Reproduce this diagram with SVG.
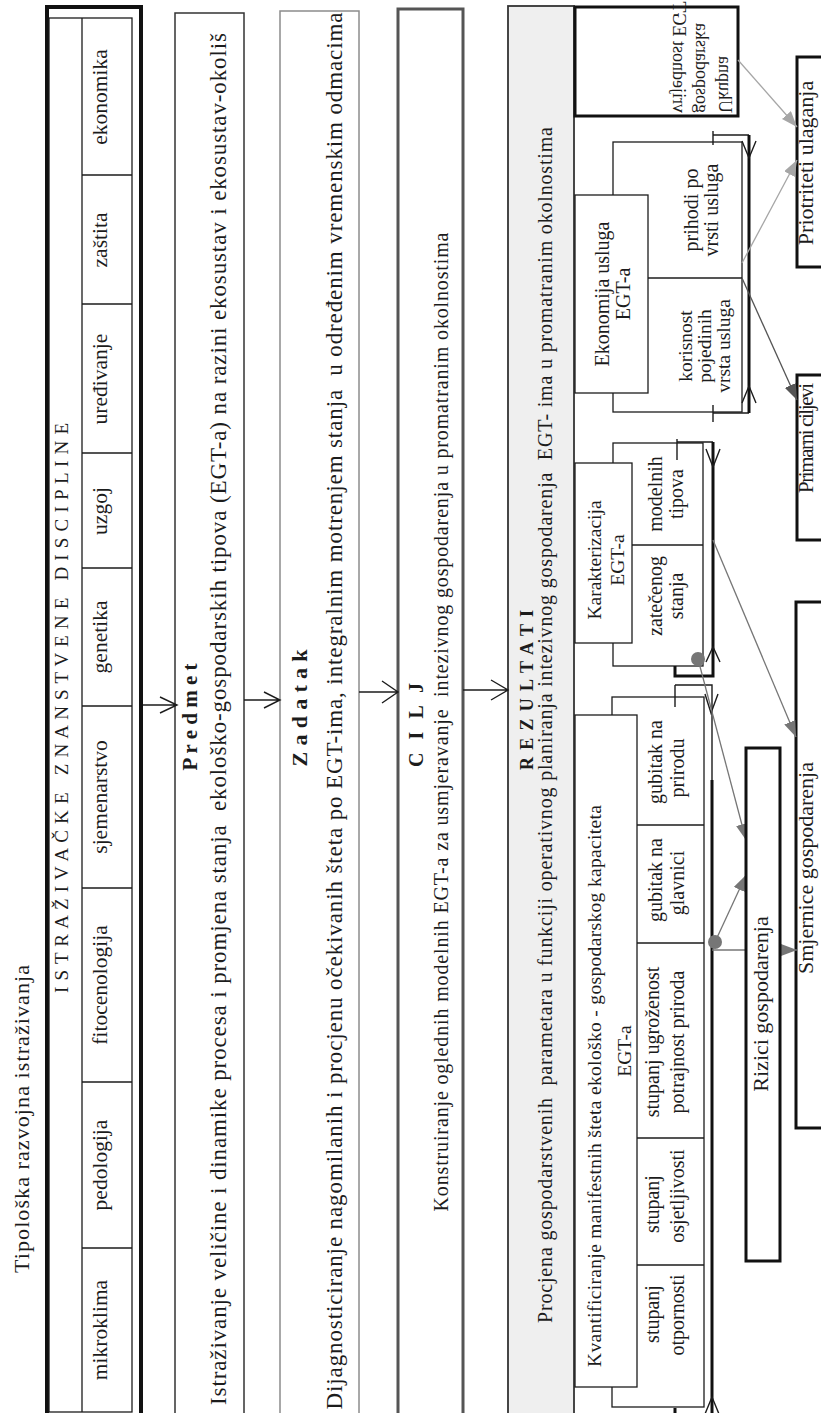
<svg xmlns="http://www.w3.org/2000/svg" width="821" height="1413" viewBox="0 0 821 1413">
  <style>
    .t { font-family: "Liberation Serif", "Times New Roman", serif; fill: #1c1c1c; }
    .b { font-weight: bold; }
    .thin { fill: none; stroke: #1c1c1c; stroke-width: 1.3; }
    .box { fill: #fff; stroke: #1c1c1c; stroke-width: 1.3; }
    .heavy { fill: #fff; stroke: #111; stroke-width: 3; }
    .arr { fill: none; stroke: #1c1c1c; stroke-width: 1.4; }
    .bold { fill: none; stroke: #111; stroke-width: 3; }
  </style>
  <defs>
    <marker id="tipLight" markerUnits="userSpaceOnUse" markerWidth="16" markerHeight="12" refX="16" refY="6" orient="auto">
      <path d="M0,0 L16,6 L0,12 z" fill="#a6a6a6"/>
    </marker>
    <marker id="tipMid" markerUnits="userSpaceOnUse" markerWidth="16" markerHeight="12" refX="16" refY="6" orient="auto">
      <path d="M0,0 L16,6 L0,12 z" fill="#767676"/>
    </marker>
    <marker id="tipDark" markerUnits="userSpaceOnUse" markerWidth="16" markerHeight="12" refX="16" refY="6" orient="auto">
      <path d="M0,0 L16,6 L0,12 z" fill="#555"/>
    </marker>
  </defs>
  <rect width="821" height="1413" fill="#fff"/>

  <!-- title -->
  <text id="title" class="t" font-size="22" text-anchor="middle" textLength="308" transform="translate(29 1119) rotate(-90)">Tipološka razvojna istraživanja</text>

  <!-- research disciplines -->
  <g id="discipline">
    <rect x="47" y="7" width="94" height="1420" fill="none" stroke="#111" stroke-width="4"/>
    <rect x="49" y="18" width="83" height="1394" class="thin"/>
    <path class="thin" d="M82,18 V1412 M82,175 H132 M82,304 H132 M82,453 H132 M82,568 H132 M82,706 H132 M82,888 H132 M82,1082 H132 M82,1248 H132"/>
    <text class="t" font-size="19" text-anchor="middle" xml:space="preserve" textLength="570" transform="translate(68 708) rotate(-90)">I S T R A Ž I V A Č K E   Z N A N S T V E N E   D I S C I P L I N E</text>
    <g class="t" font-size="21.5" text-anchor="middle">
      <text transform="translate(107 97) rotate(-90)">ekonomika</text>
      <text transform="translate(107 240) rotate(-90)">zaštita</text>
      <text transform="translate(107 379) rotate(-90)">uređivanje</text>
      <text transform="translate(107 511) rotate(-90)">uzgoj</text>
      <text transform="translate(107 637) rotate(-90)">genetika</text>
      <text transform="translate(107 797) rotate(-90)">sjemenarstvo</text>
      <text transform="translate(107 985) rotate(-90)">fitocenologija</text>
      <text transform="translate(107 1165) rotate(-90)">pedologija</text>
      <text transform="translate(107 1330) rotate(-90)">mikroklima</text>
    </g>
  </g>

  <!-- subject -->
  <g id="predmet">
    <rect x="175" y="13" width="69" height="1410" fill="none" stroke="#333" stroke-width="1.5"/>
    <text class="t b" font-size="21" text-anchor="middle" textLength="107" transform="translate(197 717) rotate(-90)">P r e d m e t</text>
    <text class="t" font-size="23" text-anchor="middle" xml:space="preserve" textLength="1372" transform="translate(226 719) rotate(-90)">Istraživanje veličine i dinamike procesa i promjena stanja  ekološko-gospodarskih tipova (EGT-a) na razini ekosustav i ekosustav-okoliš</text>
  </g>

  <!-- task -->
  <g id="zadatak">
    <rect x="280" y="11" width="79" height="1410" fill="none" stroke="#8c8c8c" stroke-width="1.5"/>
    <text class="t b" font-size="22" text-anchor="middle" textLength="117" transform="translate(307 708) rotate(-90)">Z a d a t a k</text>
    <text class="t" font-size="23" text-anchor="middle" xml:space="preserve" textLength="1397" transform="translate(342 711) rotate(-90)">Dijagnosticiranje nagomilanih i procjenu očekivanih šteta po EGT-ima, integralnim motrenjem stanja  u određenim vremenskim odmacima</text>
  </g>

  <!-- goal -->
  <g id="cilj">
    <rect x="398" y="9" width="65" height="1420" fill="none" stroke="#555" stroke-width="3"/>
    <text class="t b" font-size="20" text-anchor="middle" textLength="84" transform="translate(423 725) rotate(-90)">C I L J</text>
    <text class="t" font-size="20" text-anchor="middle" xml:space="preserve" textLength="979" transform="translate(448 722) rotate(-90)">Konstruiranje oglednih modelnih EGT-a za usmjeravanje  intezivnog gospodarenja u promatranim okolnostima</text>
  </g>

  <!-- results -->
  <g id="rezultati">
    <rect x="508" y="6" width="66" height="1420" fill="#efefef" stroke="#333" stroke-width="1.8"/>
    <text class="t b" font-size="18" text-anchor="middle" textLength="160" transform="translate(533 690) rotate(-90)">R E Z U L T A T I</text>
    <text class="t" font-size="20" text-anchor="middle" xml:space="preserve" textLength="1196" transform="translate(552 725) rotate(-90)">Procjena gospodarstvenih  parametara u funkciji operativnog planiranja intezivnog gospodarenja  EGT- ima u promatranim okolnostima</text>
  </g>

  <!-- total value -->
  <g id="ukupna">
    <rect x="575" y="7" width="163" height="109" class="heavy"/>
    <g class="t" font-size="18" xml:space="preserve">
      <text transform="matrix(0 -1 -1 0 719 113)">Ukupna</text>
      <text transform="matrix(0 -1 -1 0 696 113)">gospodarska</text>
      <text transform="matrix(0 -1 -1 0 673 113)">vrijednost  EGT</text>
    </g>
  </g>

  <!-- economy of services -->
  <g id="ekonomija">
    <rect x="613" y="142" width="129" height="270" class="box"/>
    <path class="thin" d="M648,278 H742"/>
    <rect x="575" y="195" width="73" height="198" class="box"/>
    <g class="t" font-size="20" text-anchor="middle">
      <text transform="translate(609 294) rotate(-90)">Ekonomija usluga</text>
      <text transform="translate(630 294) rotate(-90)">EGT-a</text>
    </g>
    <g class="t" font-size="20" text-anchor="middle">
      <text transform="translate(698 210) rotate(-90)">prihodi po</text>
      <text transform="translate(718 210) rotate(-90)">vrsti usluga</text>
    </g>
    <g class="t" font-size="19.5" text-anchor="middle">
      <text transform="translate(692 346) rotate(-90)">korisnost</text>
      <text transform="translate(711 346) rotate(-90)">pojedinih</text>
      <text transform="translate(730 346) rotate(-90)">vrsta usluga</text>
    </g>
  </g>

  <!-- characterisation -->
  <g id="karakterizacija">
    <rect x="613" y="443" width="90" height="223" class="box"/>
    <path class="thin" d="M632,545 H703"/>
    <rect x="575" y="463" width="57" height="180" class="box"/>
    <g class="t" font-size="19.5" text-anchor="middle">
      <text transform="translate(601 560) rotate(-90)">Karakterizacija</text>
      <text transform="translate(624 560) rotate(-90)">EGT-a</text>
    </g>
    <g class="t" font-size="20" text-anchor="middle">
      <text transform="translate(662 494) rotate(-90)">modelnih</text>
      <text transform="translate(683 494) rotate(-90)">tipova</text>
      <text transform="translate(662 596) rotate(-90)">zatečenog</text>
      <text transform="translate(683 596) rotate(-90)">stanja</text>
    </g>
  </g>

  <!-- quantification -->
  <g id="kvantificiranje">
    <rect x="612" y="697" width="92" height="710" class="box"/>
    <path class="thin" d="M637,825 H704 M637,943 H704 M637,1138 H704 M637,1265 H704"/>
    <rect x="575" y="715" width="62" height="672" class="box"/>
    <g class="t" font-size="19.5" text-anchor="middle" xml:space="preserve">
      <text textLength="562" transform="translate(601 1086) rotate(-90)">Kvantificiranje  manifestnih  šteta ekološko - gospodarskog  kapaciteta</text>
      <text transform="translate(631 1051) rotate(-90)">EGT-a</text>
    </g>
    <g class="t" font-size="20" text-anchor="middle">
      <text transform="translate(662 762) rotate(-90)">gubitak na</text>
      <text transform="translate(684 768) rotate(-90)">prirodu</text>
      <text transform="translate(662 880) rotate(-90)">gubitak na</text>
      <text transform="translate(684 883) rotate(-90)">glavnici</text>
      <text transform="translate(659 1042) rotate(-90)">stupanj ugroženost</text>
      <text transform="translate(684 1042) rotate(-90)">potrajnost priroda</text>
      <text transform="translate(659 1204) rotate(-90)">stupanj</text>
      <text transform="translate(684 1196) rotate(-90)">osjetljivosti</text>
      <text transform="translate(659 1314) rotate(-90)">stupanj</text>
      <text transform="translate(684 1315) rotate(-90)">otpornosti</text>
    </g>
  </g>

  <!-- outcome boxes -->
  <g id="prioriteti">
    <rect x="797" y="57" width="40" height="210" class="heavy"/>
    <text class="t" font-size="22" text-anchor="middle" transform="translate(813 163) rotate(-90)">Priotriteti ulaganja</text>
  </g>
  <g id="ciljevi">
    <rect x="797" y="375" width="40" height="165" class="heavy"/>
    <text class="t" font-size="21" text-anchor="end" textLength="110" transform="translate(813 383) rotate(-90)">Primarni ciljevi</text>
  </g>
  <g id="smjernice">
    <rect x="796" y="602" width="40" height="526" class="heavy"/>
    <text class="t" font-size="22" text-anchor="middle" transform="translate(813 868) rotate(-90)">Smjernice gospodarenja</text>
  </g>

  <!-- connectors -->
  <g id="connectors">
    <!-- main flow -->
    <path class="arr" d="M143,705 H177 M160,697 L177,705 L160,713"/>
    <path class="arr" d="M244,700 H280 M264,692 L280,700 L264,708"/>
    <path class="arr" d="M359,692 H398 M382,681 L398,692 L382,703"/>
    <path class="arr" d="M463,690 H508 M491,680 L508,690 L491,700"/>

    <!-- economy bracket -->
    <path class="arr" d="M713,131 V145 M713,135 H749 M713,413 H749 M713,405 V422"/>
    <path class="bold" d="M749,135 V413"/>
    <path class="arr" d="M742,141 L749,158 L756,141 M742,403 L749,386 L756,403"/>

    <!-- characterisation bracket -->
    <path class="arr" d="M677,439 V460 M677,442 H713"/>
    <path class="bold" d="M713,442 V676 H675 V666"/>
    <path class="arr" d="M706,449 L713,467 L720,449 M706,662 L713,647 L720,662"/>

    <!-- quantification bracket -->
    <path class="arr" d="M675,685 V707 M675,685 H712 V780"/>
    <path class="bold" d="M712,780 V1420 M675,1408 V1420"/>
    <path class="arr" d="M705,694 L711,713 L718,694 M705,1414 L712,1397 L719,1414"/>

    <!-- outcome links -->
    <path d="M738,60 L797,127" stroke="#a6a6a6" stroke-width="1.3" fill="none" marker-end="url(#tipLight)"/>
    <path d="M742,263 L797,160" stroke="#a6a6a6" stroke-width="1.3" fill="none" marker-end="url(#tipLight)"/>
    <path d="M742,278 L797,400" stroke="#555" stroke-width="1.3" fill="none" marker-end="url(#tipDark)"/>
    <path d="M713,540 L796,737" stroke="#767676" stroke-width="1.3" fill="none" marker-end="url(#tipMid)"/>
    <path d="M698,659 L746,840" stroke="#767676" stroke-width="1.3" fill="none" marker-end="url(#tipMid)"/>
    <path d="M715,942 L746,875" stroke="#767676" stroke-width="1.3" fill="none" marker-end="url(#tipMid)"/>
    <path d="M712,950 H746" stroke="#767676" stroke-width="1.3" fill="none"/>
    <path d="M780,950 H797" stroke="#767676" stroke-width="1.3" fill="none" marker-end="url(#tipMid)"/>
    <circle cx="698" cy="659" r="7" fill="#767676"/>
    <circle cx="715" cy="942" r="7" fill="#767676"/>
  </g>

  <!-- risks -->
  <g id="rizici">
    <rect x="746" y="748" width="34" height="513" class="heavy"/>
    <text class="t" font-size="22" text-anchor="middle" transform="translate(768 1004) rotate(-90)">Rizici gospodarenja</text>
  </g>
</svg>
